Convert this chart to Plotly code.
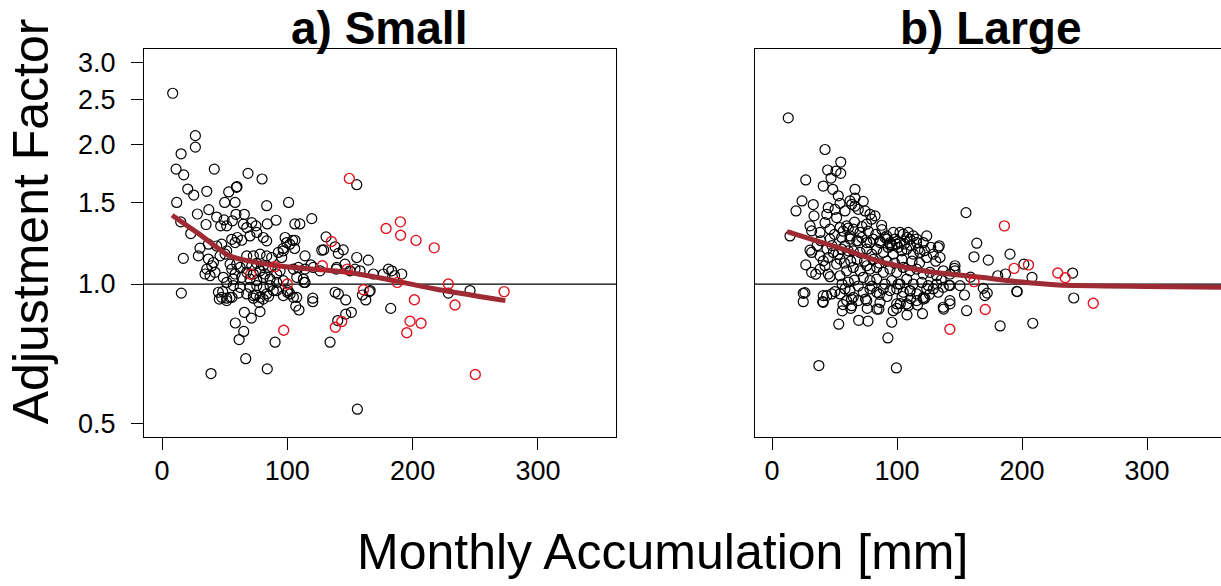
import plotly.graph_objects as go

# ---------------- data: panel a) Small ----------------
small_black_x = [8.5, 26.6, 26.6, 15.2, 11.2, 17.3, 41.7, 68.6, 79.8, 155.4, 20.5, 25.3, 35.7, 53.2, 59.3, 59.8,
                 11.7, 50, 58.3, 83.5, 101, 28.2, 37.3, 43.6, 49.5, 56.1, 59, 65.7, 35.1, 14.9, 46.8, 51.6, 64.9,
                 71.6, 75, 84, 91, 106, 110, 119.5,
                 22.9, 55.6, 60.1, 58.3, 63.6, 70.2, 67.6, 80.8, 83.5, 75.6, 98.2, 106.1, 99.5, 130.9, 127.5, 129,
                 138.1, 140.7, 30.3, 17, 29, 37, 41, 39.7, 35.7, 34.3, 38.3, 42.3, 46.3, 50.3, 51.6, 54.3, 55.6,
                 59.6, 62.3, 58.3, 56.9, 48.9, 51.6, 67.6, 72.9, 78.2, 83.5, 87.5, 92.8, 96.8, 95.5, 67.6, 71.6,
                 75.6, 80.8, 84.8, 78.2, 82.2, 72.9, 67.6, 63.6, 70.2, 75.6, 80.8, 86.2, 91.5, 94.2, 96.8, 91.5,
                 104.8, 108.8, 114.1, 112.8, 114.1, 107.5, 114.1, 120.7, 126.1, 139.4, 146, 150, 154, 158, 155.4,
                 164.6, 168.6, 176.6, 180.7, 183.3, 191.3, 138.1, 140.7, 45, 47.6, 54.3, 51.6, 56.9, 62.3, 70.2,
                 75.6, 80.8, 86.2, 67.6, 72.9, 78.2, 83.5, 91.5, 96.8, 102.2, 107.5, 37, 43.6, 47.6,
                 104.2, 105.8, 96.6, 102, 144.6, 118.8, 139, 185.6, 166.1, 113.4, 100.5,
                 15.4, 45.7, 51.6, 55.9, 48.4, 60.9, 75, 72.9, 77.2, 80.8, 85.1, 88.8, 65.7, 78.2, 71.3, 58.5,
                 65.2, 61.5, 66.8, 39.1, 84, 90.2, 100, 104.8, 106.7, 109.3, 120.3, 120.3, 146.6, 146.6, 151.1,
                 140.2, 134.1, 155.9, 159.9, 162.6, 165.4, 182.5, 228.5, 245.8]
small_black_y = [2.58, 2.09, 1.974, 1.91, 1.77, 1.72, 1.77, 1.733, 1.685, 1.638, 1.603, 1.556, 1.585, 1.58, 1.617, 1.622,
                 1.50, 1.50, 1.50, 1.476, 1.50, 1.416, 1.447, 1.395, 1.375, 1.369, 1.414, 1.414, 1.344, 1.362, 1.335,
                 1.335, 1.346, 1.357, 1.335, 1.348, 1.373, 1.348, 1.348, 1.384,
                 1.285, 1.249, 1.26, 1.229, 1.243, 1.27, 1.324, 1.26, 1.239, 1.292, 1.26, 1.243, 1.229, 1.264, 1.183,
                 1.185, 1.203, 1.164, 1.195, 1.136, 1.15, 1.132, 1.113, 1.095, 1.077, 1.051, 1.042, 1.06, 1.15, 1.16,
                 1.179, 1.104, 1.077, 1.104, 1.086, 1.051, 1.025, 1.034, 1.008, 1.15, 1.15, 1.16, 1.15, 1.141, 1.17,
                 1.179, 1.141, 1.104, 1.095, 1.108, 1.095, 1.086, 1.068, 1.051, 1.051, 1.06, 1.034, 1.025, 1.017,
                 1.034, 1.025, 1.051, 1.068, 1.017, 1.008, 1.077, 1.086, 1.077, 1.025, 1.008, 1.034, 1.15, 1.086,
                 1.068, 1.086, 1.104, 1.068, 1.077, 1.068, 1.141, 1.126, 1.051, 1.051, 1.077, 1.068, 1.051, 0.96,
                 0.952, 0.96, 0.936, 0.936, 0.921, 0.992, 0.984, 0.984, 0.992, 0.984, 0.992, 0.952, 0.944, 0.936,
                 0.952, 0.968, 0.944, 0.952, 0.936, 1.219, 1.208, 1.219,
                 1.242, 1.193, 1.193, 1.219, 1.185, 1.10, 1.077, 1.042, 0.968, 1.008, 0.968,
                 0.956, 0.928, 0.932, 0.936, 0.963, 0.956, 0.947, 0.932, 0.913, 0.928, 0.941, 0.968, 0.869, 0.872,
                 0.844, 0.824, 0.79, 0.759, 0.69, 0.641, 0.656, 0.749, 0.96, 0.936, 0.896, 0.879, 0.932, 0.916,
                 0.924, 0.861, 0.869, 0.834, 0.749, 0.537, 0.947, 0.924, 0.963, 0.886, 0.956, 0.968]
small_red_x = [149.5, 178.8, 190.2, 190.4, 202.7, 217.2, 135.2, 127.9, 147.8, 70.8, 90.2, 100, 160.7, 187.8, 228.5,
               201.4, 273, 233.8, 197.9, 206.7, 195.3, 97.1, 138.3, 143.4, 250]
small_red_y = [1.69, 1.318, 1.362, 1.274, 1.242, 1.197, 1.235, 1.095, 1.077, 1.05, 1.09, 1.0, 0.972, 1.008, 1.0,
               0.925, 0.963, 0.901, 0.831, 0.823, 0.785, 0.795, 0.807, 0.83, 0.638]
small_fit_x = [8, 30, 54, 92, 148, 186, 218, 274]
small_fit_y = [1.407, 1.28, 1.15, 1.095, 1.06, 1.016, 0.976, 0.921]

# ---------------- data: panel b) Large ----------------
large_black_x = [13, 42.4, 55, 44.5, 51.2, 55, 47.2, 27, 41, 48.6, 66.4, 53, 62.4, 66.4, 73, 54.4, 24, 33, 19.2, 33.6,
                 45, 43.8, 50.4, 58.4, 66.4, 74.4, 78.4, 82.4, 69, 63.8, 155.2, 163.8, 133.8, 14.4, 30.4, 31.7, 42.4,
                 51.7, 46.4, 54.4, 59.7, 65, 70.4, 75.7, 79.7, 87.7, 38.4, 46.4, 55.7, 62.4, 69, 78.4, 86.4, 91.7,
                 97, 102.4, 105, 109, 110.4, 115.7, 94.4, 99.7,
                 30.4, 31.7, 38.4, 41, 42.4, 45, 49, 53, 55.7, 58.4, 61, 54.4, 51.7, 31.7, 38.4, 45, 46.4, 54.4, 25,
                 25, 41, 47.8, 41, 54.4, 58.4, 62.4, 65, 59.7, 69, 63.8,
                 62.4, 67.8, 71.8, 75.8, 81, 86.4, 90.4, 94.4, 98.4, 102.4, 107.8, 113, 115.8, 121, 123.8,
                 65, 70.4, 75.8, 79.8, 83.8, 89, 93, 97, 103.8, 107.8, 113, 118.4, 123.8, 129, 133, 134.4,
                 59.7, 65, 70.4, 75.8, 78.4, 83.8, 89, 94.4, 99.8, 105, 110.4, 115.8, 121, 126.4, 131.8, 137, 142.4,
                 146.4, 146.4,
                 73, 78.4, 83.8, 90.4, 95.8, 102.4, 107.8, 113, 119.8, 125, 131.8, 137, 142.4, 150.4,
                 73, 78.4, 83.8, 89, 94.4, 99.8, 105, 110.4, 115.8, 121, 123.8, 129,
                 75.8, 86.4, 99.8, 107.8, 115.8, 121, 137, 142.4,
                 161.6, 173, 190.4, 195.8, 201.5, 186.8, 180.6, 208, 240.5, 146, 135.4, 141.6, 158.8,
                 26.3, 40.6, 43.8, 50.3, 53.4, 56.8, 56.2, 63, 63.6, 69.3, 76.8, 74.8, 76.2, 84, 85.5, 92.7, 95.8,
                 97, 99.8, 102.6, 101, 108, 109, 110.5, 116.4, 120.4, 122.3, 99.5, 37.5, 137.3, 142.3, 154, 155.7,
                 170.3, 172.2, 169, 196.2, 182.5, 208.6, 241.4,
                 57, 61, 66, 72, 77, 83, 88, 92, 96, 101, 106, 111, 117, 122, 127, 131, 118, 112, 104, 98, 92, 86,
                 81, 74, 68, 63, 58, 66, 61, 56, 69, 80, 86, 92, 104, 111, 126, 133, 48, 44, 36, 39, 50, 35, 27]
large_black_y = [2.283, 1.951, 1.833, 1.762, 1.753, 1.733, 1.693, 1.677, 1.627, 1.601, 1.601, 1.55, 1.511, 1.533,
                 1.508, 1.493, 1.511, 1.484, 1.438, 1.403, 1.462, 1.414, 1.449, 1.438, 1.473, 1.438, 1.414, 1.403,
                 1.449, 1.486, 1.426, 1.225, 1.209, 1.27, 1.335, 1.302, 1.357, 1.391, 1.313, 1.324, 1.335, 1.313,
                 1.292, 1.346, 1.38, 1.339, 1.292, 1.25, 1.26, 1.25, 1.239, 1.229, 1.239, 1.27, 1.292, 1.292, 1.281,
                 1.292, 1.25, 1.229, 1.229, 1.219,
                 1.183, 1.17, 1.15, 1.122, 1.095, 1.141, 1.17, 1.16, 1.189, 1.209, 1.179, 1.132, 1.104, 1.06, 1.077,
                 1.051, 1.037, 1.042, 0.955, 0.916, 0.944, 0.952, 0.913, 0.952, 0.976, 0.968, 0.936, 0.921, 0.921,
                 0.898,
                 1.27, 1.239, 1.26, 1.229, 1.25, 1.229, 1.26, 1.219, 1.25, 1.229, 1.26, 1.27, 1.25, 1.229, 1.27,
                 1.179, 1.17, 1.189, 1.16, 1.189, 1.17, 1.199, 1.16, 1.179, 1.189, 1.16, 1.17, 1.141, 1.16, 1.199,
                 1.141,
                 1.068, 1.086, 1.068, 1.095, 1.077, 1.086, 1.06, 1.077, 1.06, 1.086, 1.068, 1.077, 1.051, 1.06,
                 1.042, 1.068, 1.051, 1.095, 1.068,
                 1.034, 1.017, 1.025, 1.0, 1.017, 1.0, 1.025, 1.0, 1.008, 0.992, 1.0, 0.984, 0.992, 0.992,
                 0.96, 0.976, 0.96, 0.976, 0.968, 0.976, 0.96, 0.968, 0.952, 0.936, 0.976, 0.976,
                 0.921, 0.913, 0.906, 0.906, 0.921, 0.928, 0.891, 0.906,
                 1.145, 1.126, 1.16, 0.964, 1.104, 1.051, 1.042, 1.034, 1.056, 1.081, 1.021, 0.995, 1.035,
                 0.958, 0.916, 0.944, 0.963, 0.819, 0.903, 0.875, 0.886, 0.928, 0.835, 0.832, 0.928, 0.886, 0.883,
                 0.883, 0.765, 0.827, 0.876, 0.886, 0.907, 1.0, 0.858, 0.898, 0.966, 0.901, 0.863, 0.932, 0.659,
                 0.667, 0.883, 0.921, 0.947, 0.876, 0.944, 0.956, 0.979, 0.963, 0.812, 0.823, 0.933,
                 1.30, 1.32, 1.36, 1.33, 1.30, 1.28, 1.31, 1.25, 1.21, 1.20, 1.22, 1.21, 1.19, 1.18, 1.20, 1.12,
                 1.11, 1.12, 1.13, 1.11, 1.12, 1.11, 1.13, 1.12, 1.13, 1.12, 1.11, 1.02, 1.01, 1.00, 0.99, 0.99,
                 0.95, 0.94, 0.94, 0.93, 0.95, 0.96, 1.21, 1.19, 1.21, 1.24, 1.28, 1.05, 1.10]
large_red_x = [185.9, 193.7, 205.2, 228.6, 234.6, 161.6, 142.3, 170.6, 257]
large_red_y = [1.335, 1.081, 1.10, 1.056, 1.032, 1.012, 0.799, 0.881, 0.909]
large_fit_x = [12, 57, 89, 126, 167, 198, 229, 300, 360]
large_fit_y = [1.298, 1.189, 1.113, 1.063, 1.034, 1.011, 0.995, 0.988, 0.984]

x_ticks = [0, 100, 200, 300]
y_ticks = [0.5, 1.0, 1.5, 2.0, 2.5, 3.0]
y_tick_text = ["0.5", "1.0", "1.5", "2.0", "2.5", "3.0"]
titles = ["a) Small", "b) Large"]

FONT = "Liberation Sans, Arial, Helvetica, sans-serif"
BLACK = "#000000"
RED = "#E0141E"
FIT = "#9E2A33"
W, H = 1221, 586

fig = go.Figure()

def add_panel(bx, by, rx, ry, fx, fy, xa, ya):
    fig.add_trace(go.Scatter(x=bx, y=by, mode="markers", xaxis=xa, yaxis=ya, showlegend=False,
                             marker=dict(symbol="circle-open", size=10, color=BLACK, line=dict(width=1.2))))
    fig.add_trace(go.Scatter(x=fx, y=fy, mode="lines", xaxis=xa, yaxis=ya, showlegend=False,
                             line=dict(color=FIT, width=5, shape="spline", smoothing=0.6)))
    fig.add_trace(go.Scatter(x=rx, y=ry, mode="markers", xaxis=xa, yaxis=ya, showlegend=False,
                             marker=dict(symbol="circle-open", size=10, color=RED, line=dict(width=1.4))))

add_panel(small_black_x, small_black_y, small_red_x, small_red_y, small_fit_x, small_fit_y, "x", "y")
add_panel(large_black_x, large_black_y, large_red_x, large_red_y, large_fit_x, large_fit_y, "x2", "y2")

ydom = [1 - 438 / H, 1 - 49 / H]
yrange = [-0.329, 0.5075]
common_x = dict(tickvals=x_ticks, ticks="outside", ticklen=12, tickcolor=BLACK, tickwidth=1,
                showline=True, linecolor=BLACK, linewidth=1, mirror=True, showgrid=False, zeroline=False,
                tickfont=dict(size=27, color=BLACK, family=FONT), ticklabelstandoff=-2)
fig.update_layout(
    width=W, height=H, margin=dict(l=0, r=0, t=0, b=0),
    paper_bgcolor="white", plot_bgcolor="white",
    xaxis=dict(domain=[144 / W, 616 / W], range=[-14.4, 362.3], anchor="y", **common_x),
    xaxis2=dict(domain=[755 / W, 1.0], range=[-13.6, 359.2], anchor="y2", **common_x),
    yaxis=dict(domain=ydom, type="log", range=yrange, tickvals=y_ticks, ticktext=y_tick_text,
               ticks="outside", ticklen=12, tickcolor=BLACK, showline=True, linecolor=BLACK, linewidth=1,
               mirror=True, showgrid=False, zeroline=False, anchor="x",
               tickfont=dict(size=27, color=BLACK, family=FONT), ticklabelstandoff=10),
    yaxis2=dict(domain=ydom, type="log", range=yrange, showticklabels=False, ticks="",
                showline=True, linecolor=BLACK, linewidth=1, mirror=False, showgrid=False,
                zeroline=False, anchor="x2"),
)

for xr in ["x", "x2"]:
    fig.add_shape(type="line", xref=xr + " domain", yref="y" if xr == "x" else "y2",
                  x0=0, x1=1, y0=1, y1=1, line=dict(color=BLACK, width=1.3), layer="below")

fig.add_annotation(text="<b>" + titles[0] + "</b>", x=379 / W, y=1 - 28 / H, xref="paper", yref="paper",
                   showarrow=False, xanchor="center", yanchor="middle",
                   font=dict(size=46, color=BLACK, family=FONT))
fig.add_annotation(text="<b>" + titles[1] + "</b>", x=990 / W, y=1 - 28 / H, xref="paper", yref="paper",
                   showarrow=False, xanchor="center", yanchor="middle",
                   font=dict(size=46, color=BLACK, family=FONT))
fig.add_annotation(text="Adjustment Factor", x=31 / W, y=1 - 222 / H, xref="paper", yref="paper",
                   showarrow=False, xanchor="center", yanchor="middle", textangle=-90,
                   font=dict(size=50, color=BLACK, family=FONT))
fig.add_annotation(text="Monthly Accumulation [mm]", x=662 / W, y=1 - 554 / H, xref="paper", yref="paper",
                   showarrow=False, xanchor="center", yanchor="middle",
                   font=dict(size=50, color=BLACK, family=FONT))

fig.write_html("out.html")
